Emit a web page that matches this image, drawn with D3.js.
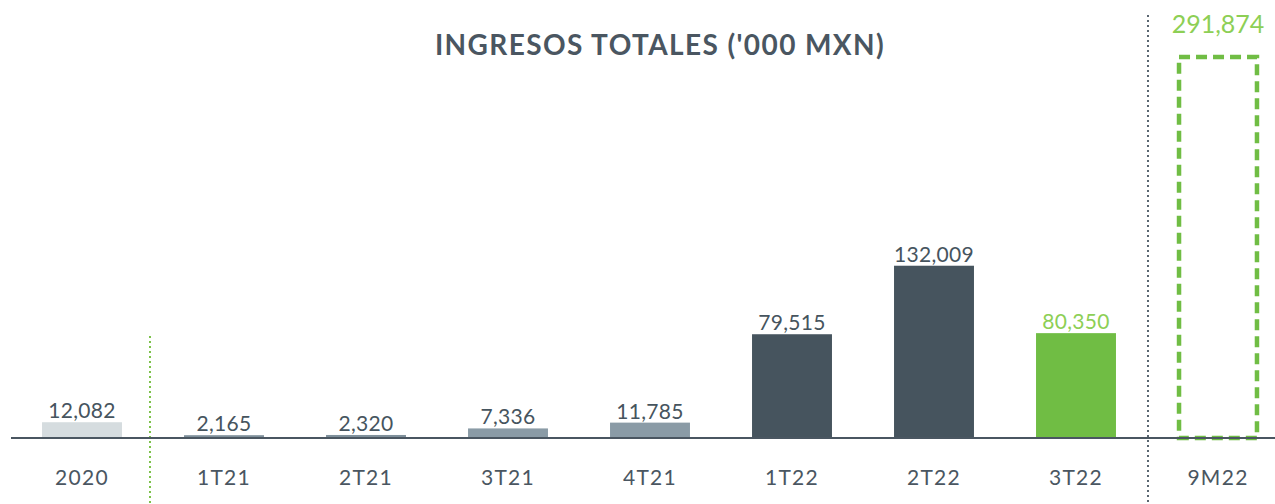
<!DOCTYPE html>
<html><head><meta charset="utf-8">
<script src="https://cdn.jsdelivr.net/npm/d3@7"></script>
<style>body{margin:0;background:#fff}svg{display:block}</style>
</head><body>
<svg id="c" width="1275" height="504"></svg>
<script>
const categories = ["2020","1T21","2T21","3T21","4T21","1T22","2T22","3T22","9M22"];
const values = [12082,2165,2320,7336,11785,79515,132009,80350,291874];
const labels = ["12,082","2,165","2,320","7,336","11,785","79,515","132,009","80,350","291,874"];
const barColors = ["#d5dcdf","#7f909b","#7f909b","#8a9ba6","#8a9ba6","#46545e","#46545e","#70bd44","none"];
const labelColors = ["#46545e","#46545e","#46545e","#46545e","#46545e","#46545e","#46545e","#8dcf55","#8dcf55"];
const title = "INGRESOS TOTALES ('000 MXN)";

const svg = d3.select("#c");
const font = "Lato, 'Open Sans', sans-serif";
const x = d3.scaleBand().domain(categories).range([11,1289]).paddingInner(0.437).paddingOuter(0.2185);
const y = d3.scaleLinear().domain([0,300000]).range([438, 438-300000*0.001305]);

svg.append("text").attr("x",660).attr("y",55).attr("text-anchor","middle")
  .attr("font-family",font).attr("font-weight",700).attr("font-size",28)
  .attr("letter-spacing",1.4)
  .attr("fill","#4a5661").text(title);

// separators
svg.append("line").attr("x1",150).attr("x2",150).attr("y1",336).attr("y2",504)
  .attr("stroke","#7cc24a").attr("stroke-width",2).attr("stroke-dasharray","2,3");
svg.append("line").attr("x1",1148).attr("x2",1148).attr("y1",15).attr("y2",504)
  .attr("stroke","#5a6670").attr("stroke-width",2).attr("stroke-dasharray","2,3");

const data = categories.map((c,i)=>({c,v:values[i],l:labels[i],bc:barColors[i],lc:labelColors[i]}));
const solid = data.filter(d=>d.c!=="9M22");
svg.selectAll("rect.bar").data(solid).join("rect").attr("class","bar")
  .attr("x",d=>x(d.c)).attr("width",x.bandwidth())
  .attr("y",d=>y(d.v)).attr("height",d=>y(0)-y(d.v)).attr("fill",d=>d.bc);

const dash = data.filter(d=>d.c==="9M22");
svg.selectAll("rect.dash").data(dash).join("rect").attr("class","dash")
  .attr("x",d=>x(d.c)+1).attr("width",x.bandwidth()-2)
  .attr("y",d=>y(d.v)).attr("height",d=>y(0)-y(d.v))
  .attr("fill","none").attr("stroke","#70bd44").attr("stroke-width",4.5).attr("stroke-dasharray","11,6");

// axis line
svg.append("line").attr("x1",11).attr("x2",1275).attr("y1",438).attr("y2",438)
  .attr("stroke","#4a5661").attr("stroke-width",2);

// value labels
svg.selectAll("text.val").data(solid).join("text").attr("class","val")
  .attr("x",d=>x(d.c)+x.bandwidth()/2).attr("y",d=>y(d.v)-4)
  .attr("text-anchor","middle").attr("font-family",font).attr("font-size",21)
  .attr("letter-spacing",0.3)
  .attr("fill",d=>d.lc).text(d=>d.l);
svg.selectAll("text.valbig").data(dash).join("text").attr("class","valbig")
  .attr("x",d=>x(d.c)+x.bandwidth()/2).attr("y",33)
  .attr("text-anchor","middle").attr("font-family",font).attr("font-size",25)
  .attr("fill",d=>d.lc).text(d=>d.l);

// category labels
svg.selectAll("text.cat").data(data).join("text").attr("class","cat")
  .attr("x",d=>x(d.c)+x.bandwidth()/2).attr("y",485)
  .attr("text-anchor","middle").attr("font-family",font).attr("font-size",21)
  .attr("letter-spacing",1.3)
  .attr("fill","#4a5661").text(d=>d.c);
</script>
</body></html>
